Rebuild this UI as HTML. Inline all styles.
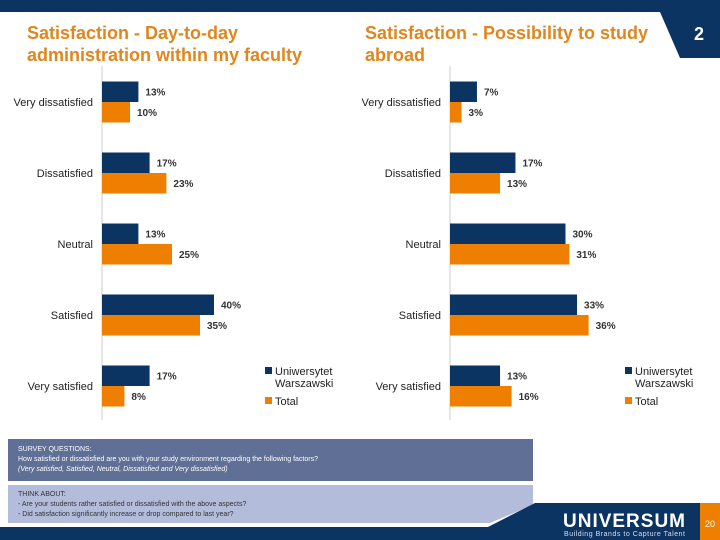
<!DOCTYPE html>
<html><head><meta charset="utf-8"><style>
body{margin:0;width:720px;height:540px;overflow:hidden;background:#fff;font-family:"Liberation Sans",sans-serif;position:relative}
.t{position:absolute;color:#e0861c;font-weight:bold;font-size:18px;line-height:22px}
</style></head><body>
<svg width="720" height="540" style="position:absolute;left:0;top:0">
<rect x="0" y="0" width="720" height="12" fill="#0b3463"/>
<polygon points="660,12 720,12 720,58 680,58" fill="#0b3463"/>
<text x="694" y="40" fill="#fff" font-size="18" font-weight="bold" font-family="Liberation Sans">2</text>
<rect x="8" y="439" width="525" height="42" fill="#5f6f96"/>
<polygon points="8,485 533,485 533,505 490,523 8,523" fill="#b4bcdb"/>
<polygon points="0,527 488,527 535,503 700,503 700,540 0,540" fill="#0b3463"/>
<rect x="700" y="503" width="20" height="37" fill="#ee7f00"/>
<text x="710" y="527" fill="#fff" font-size="9" text-anchor="middle" font-family="Liberation Sans">20</text>
<text x="563" y="527" fill="#fff" font-size="19" font-weight="bold" font-family="Liberation Sans" textLength="122">UNIVERSUM</text>
<text x="564" y="536" fill="#dde" font-size="7" font-family="Liberation Sans" textLength="121">Building Brands to Capture Talent</text>
</svg>
<div class="t" style="left:27px;top:22px">Satisfaction - Day-to-day<br>administration within my faculty</div>
<div class="t" style="left:365px;top:22px">Satisfaction - Possibility to study<br>abroad</div>
<div style="position:absolute;left:18px;top:445px;color:#fff;font-size:7px;line-height:10px">SURVEY QUESTIONS:<br>How satisfied or dissatisfied are you with your study environment regarding the following factors?<br><i>(Very satisfied, Satisfied, Neutral, Dissatisfied and Very dissatisfied)</i></div>
<div style="position:absolute;left:18px;top:490px;color:#333;font-size:7px;line-height:10px">THINK ABOUT:<br>- Are your students rather satisfied or dissatisfied with the above aspects?<br>- Did satisfaction significantly increase or drop compared to last year?</div>
<svg id="c" width="720" height="540" style="position:absolute;left:0;top:0"></svg>
<script>
const categories=["Very dissatisfied","Dissatisfied","Neutral","Satisfied","Very satisfied"];
const uw1=[13,17,13,40,17];
const total1=[10,23,25,35,8];
const uw2=[7,17,30,33,13];
const total2=[3,13,31,36,16];
const NS="http://www.w3.org/2000/svg";
const svg=document.getElementById('c');
function mk(t,a){const e=document.createElementNS(NS,t);for(const k in a)e.setAttribute(k,a[k]);svg.appendChild(e);return e;}
function chart(id,x0,scale,a,b,lx){
  const ax=mk('line',{x1:x0,y1:66,x2:x0,y2:420,stroke:'#ccc'});
  
  const yc=i=>102+i*71;
  categories.forEach((c,i)=>{
    const l=mk('text',{x:x0-9,y:yc(i)+4,'text-anchor':'end','font-size':11,fill:'#222'});l.textContent=c;
    
    [[a,'#0b3463',-20.5],[b,'#ee7f00',0]].forEach(([s,col,dy],k)=>{
      const w=s[i]*scale;
      const r=mk('rect',{x:x0,y:yc(i)+dy,width:w,height:20.5,fill:col});
      
      const v=mk('text',{x:x0+w+7,y:yc(i)+dy+14,'font-size':10,'font-weight':'bold',fill:'#333'});v.textContent=s[i]+'%';
      
    });
  });
  const s1=mk('rect',{x:lx,y:367,width:7,height:7,fill:'#0b3463'});
  
  const t1=mk('text',{x:lx+10,y:375,'font-size':11,fill:'#222'});t1.textContent='Uniwersytet';
  
  const t2=mk('text',{x:lx+10,y:387,'font-size':11,fill:'#222'});t2.textContent='Warszawski';
  
  const s2=mk('rect',{x:lx,y:397,width:7,height:7,fill:'#ee7f00'});
  
  const t3=mk('text',{x:lx+10,y:405,'font-size':11,fill:'#222'});t3.textContent='Total';
  
}
chart('chart1',102,2.8,uw1,total1,265);
chart('chart2',450,3.85,uw2,total2,625);
</script>
</body></html>
